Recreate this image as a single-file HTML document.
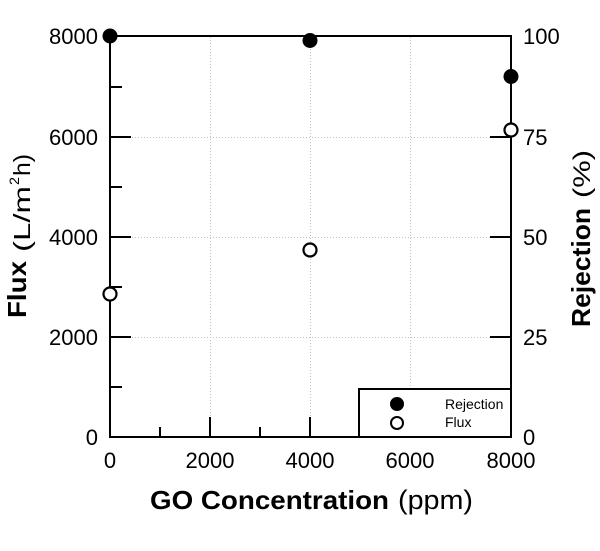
<!DOCTYPE html>
<html>
<head>
<meta charset="utf-8">
<style>
  html, body { margin: 0; padding: 0; background: #ffffff; }
  body { width: 600px; height: 551px; overflow: hidden; }
  svg { display: block; font-family: "Liberation Sans", Arial, sans-serif; }
</style>
</head>
<body>
<svg width="600" height="551" viewBox="0 0 600 551" xmlns="http://www.w3.org/2000/svg">
  <rect x="0" y="0" width="600" height="551" fill="#ffffff"/>

  <!-- gridlines -->
  <g stroke="#c4c4c4" stroke-width="1" stroke-dasharray="1 2" fill="none">
    <line x1="210.5" y1="37" x2="210.5" y2="436"/>
    <line x1="310.5" y1="37" x2="310.5" y2="436"/>
    <line x1="410.5" y1="37" x2="410.5" y2="436"/>
    <line x1="111" y1="137.5" x2="510" y2="137.5"/>
    <line x1="111" y1="237.5" x2="510" y2="237.5"/>
    <line x1="111" y1="337.5" x2="510" y2="337.5"/>
  </g>

  <!-- ticks -->
  <g stroke="#000" stroke-width="2" fill="none">
    <line x1="110" y1="137" x2="131" y2="137"/>
    <line x1="110" y1="237" x2="131" y2="237"/>
    <line x1="110" y1="337" x2="131" y2="337"/>
    <line x1="110" y1="87" x2="122" y2="87"/>
    <line x1="110" y1="187" x2="122" y2="187"/>
    <line x1="110" y1="287" x2="122" y2="287"/>
    <line x1="110" y1="387" x2="122" y2="387"/>
    <line x1="210" y1="437" x2="210" y2="417"/>
    <line x1="310" y1="437" x2="310" y2="417"/>
    <line x1="160" y1="437" x2="160" y2="427"/>
    <line x1="260" y1="437" x2="260" y2="427"/>
    <line x1="511" y1="137" x2="490" y2="137"/>
    <line x1="511" y1="237" x2="490" y2="237"/>
    <line x1="511" y1="337" x2="490" y2="337"/>
  </g>

  <!-- frame -->
  <rect x="110" y="36" width="401" height="401" fill="none" stroke="#000" stroke-width="2"/>

  <!-- legend -->
  <rect x="359" y="389" width="152" height="48" fill="#ffffff" stroke="#000" stroke-width="2"/>
  <circle cx="397" cy="404" r="7" fill="#000"/>
  <circle cx="397" cy="423" r="6" fill="#fff" stroke="#000" stroke-width="2"/>
  <text x="445" y="409" font-size="14" fill="#000">Rejection</text>
  <text x="445" y="427" font-size="14" fill="#000">Flux</text>

  <!-- left tick labels -->
  <g font-size="22" fill="#000" text-anchor="end">
    <text x="98" y="44">8000</text>
    <text x="98" y="145">6000</text>
    <text x="98" y="245">4000</text>
    <text x="98" y="345">2000</text>
    <text x="98" y="445">0</text>
  </g>

  <!-- right tick labels -->
  <g font-size="22" fill="#000" text-anchor="start">
    <text x="523" y="44">100</text>
    <text x="523" y="145">75</text>
    <text x="523" y="245">50</text>
    <text x="523" y="345">25</text>
    <text x="523" y="445">0</text>
  </g>

  <!-- bottom tick labels -->
  <g font-size="22" fill="#000" text-anchor="middle">
    <text x="110" y="468">0</text>
    <text x="210" y="468">2000</text>
    <text x="310" y="468">4000</text>
    <text x="410" y="468">6000</text>
    <text x="511" y="468">8000</text>
  </g>

  <!-- x axis title -->
  <text x="150" y="509" font-size="26" font-weight="bold" fill="#000" textLength="239" lengthAdjust="spacingAndGlyphs">GO Concentration</text>
  <text x="398" y="509" font-size="27" fill="#000" textLength="75" lengthAdjust="spacingAndGlyphs">(ppm)</text>

  <!-- left y axis title -->
  <g transform="rotate(-90)">
    <text x="-318" y="26" font-size="26" font-weight="bold" fill="#000" textLength="57" lengthAdjust="spacingAndGlyphs">Flux</text>
    <text x="-252" y="30" font-size="23" fill="#000" textLength="66" lengthAdjust="spacingAndGlyphs">(L/m</text>
    <text x="-185" y="19" font-size="14" fill="#000" textLength="8" lengthAdjust="spacingAndGlyphs">2</text>
    <text x="-176" y="30" font-size="23" fill="#000" textLength="22" lengthAdjust="spacingAndGlyphs">h)</text>
  </g>

  <!-- right y axis title -->
  <g transform="rotate(-90)">
    <text x="-327" y="590" font-size="26" font-weight="bold" fill="#000" textLength="119" lengthAdjust="spacingAndGlyphs">Rejection</text>
    <text x="-198" y="590" font-size="24" fill="#000" textLength="48" lengthAdjust="spacingAndGlyphs">(%)</text>
  </g>

  <!-- data: Flux (open) -->
  <g fill="#fff" stroke="#000" stroke-width="2.2">
    <circle cx="110" cy="294" r="6.5"/>
    <circle cx="310" cy="250" r="6.5"/>
    <circle cx="511" cy="130" r="6.5"/>
  </g>
  <!-- data: Rejection (filled) -->
  <g fill="#000">
    <circle cx="110" cy="36" r="7.5"/>
    <circle cx="310" cy="40.5" r="7.5"/>
    <circle cx="511" cy="76.5" r="7.5"/>
  </g>
</svg>
</body>
</html>
